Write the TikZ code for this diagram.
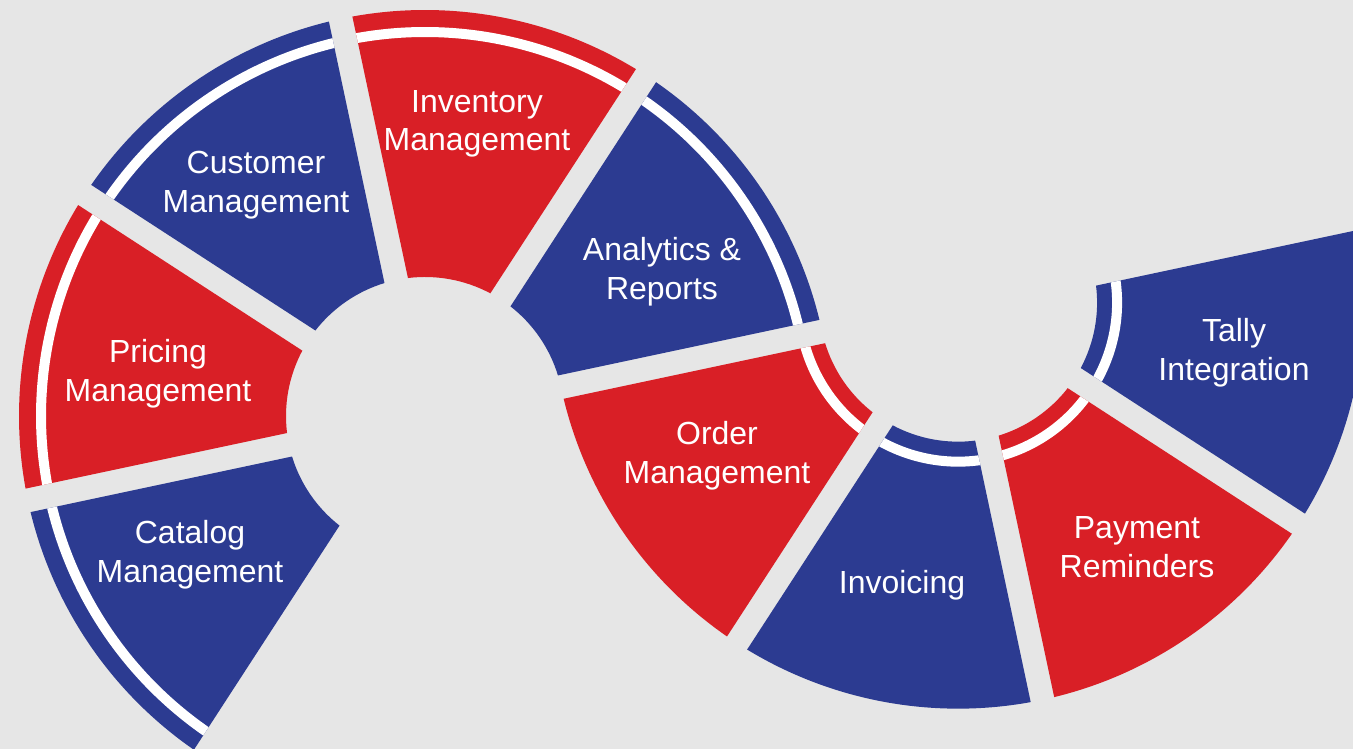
\documentclass[tikz,border=0pt]{standalone}
\usepackage{fontspec}
\setmainfont{Liberation Sans}
\usepackage{tikz}
\usetikzlibrary{calc}
\definecolor{segred}{RGB}{217,31,38}
\definecolor{segblue}{RGB}{44,59,145}
\definecolor{backgr}{RGB}{230,230,230}

\begin{document}
\begin{tikzpicture}[x=0.02cm,y=0.02cm,
  lbl/.style={text=white,align=center,font=\fontsize{18.2}{22}\selectfont}]
% Helper macro: \seg{center}{from}{to}{inner r}{outer r}{color}
\newcommand{\segGap}{12}
\newcommand{\seg}[6]{%
  \fill[#6,shift={(#1)}]
    ({#2+asin(\segGap/#5)}:#5) arc[start angle={#2+asin(\segGap/#5)},
      end angle={#3-asin(\segGap/#5)}, radius=#5]
    -- ({#3-asin(\segGap/#4)}:#4) arc[start angle={#3-asin(\segGap/#4)},
      end angle={#2+asin(\segGap/#4)}, radius=#4] -- cycle;
}

% Background
\fill[backgr] (0,0) rectangle (1353,749);
\clip (0,0) rectangle (1353,749);

\coordinate (c1) at (425,333);
\coordinate (c2) at ($(c1)+(12:545)$);

% Left ring (band outside)
\foreach \a/\col in {192/segblue,147/segred,102/segblue,57/segred,12/segblue} {
  \seg{c1}{\a}{\a+45}{139}{406}{\col}
  \seg{c1}{\a}{\a+45}{379}{389}{white}
}

% Right ring (band inside)
\foreach \a/\col in {192/segred,237/segblue,282/segred,327/segblue} {
  \seg{c2}{\a}{\a+45}{139}{406}{\col}
  \seg{c2}{\a}{\a+45}{154}{164}{white}
}

% Labels
\foreach \nm/\x/\y/\txt in {cat/190/194/{Catalog\\Management},
  pri/158/375/{Pricing\\Management},cus/256/564/{Customer\\Management},
  inv/477/625/{Inventory\\Management},ana/662/477/{Analytics \&\\Reports},
  ord/717/293/{Order\\Management},bil/902/164/{Invoicing},
  pay/1137/202/{Payment\\Reminders},tal/1234/396/{Tally\\Integration}} {
  \node[lbl] (\nm) at (\x,\y) {\txt};
}
\end{tikzpicture}
\end{document}
